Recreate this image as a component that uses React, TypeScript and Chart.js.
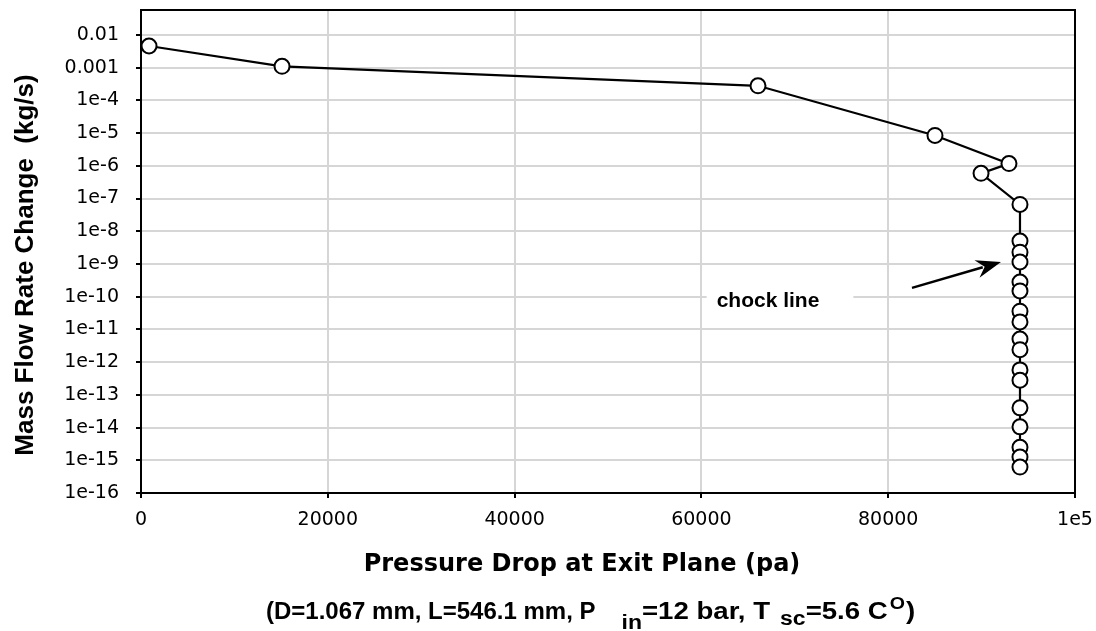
import React, { useEffect, useRef } from "react";
import { Chart, registerables } from "chart.js";

Chart.register(...registerables);

// ---- data ----
const pressureDrop = [
  860, 15100, 66060, 85010, 92930, 89940, 94110,
  94110, 94110, 94110, 94110, 94110, 94110, 94110, 94110,
  94110, 94110, 94110, 94110, 94110, 94110, 94110, 94110,
];
const massFlowChange = [
  4.6e-3, 1.1e-3, 2.8e-4, 8.5e-6, 1.17e-6, 5.9e-7, 6.6e-8,
  5.0e-9, 2.3e-9, 1.15e-9, 2.8e-10, 1.5e-10, 3.6e-11, 1.7e-11, 5.1e-12,
  2.4e-12, 5.8e-13, 2.8e-13, 4.0e-14, 1.05e-14, 2.5e-15, 1.25e-15, 6.2e-16,
];

const xTickValues = [0, 20000, 40000, 60000, 80000, 100000];
const xTickLabels = ["0", "20000", "40000", "60000", "80000", "1e5"];
const yTickValues = [1e-2, 1e-3, 1e-4, 1e-5, 1e-6, 1e-7, 1e-8, 1e-9, 1e-10, 1e-11, 1e-12, 1e-13, 1e-14, 1e-15, 1e-16];
const yTickLabels = ["0.01", "0.001", "1e-4", "1e-5", "1e-6", "1e-7", "1e-8", "1e-9", "1e-10", "1e-11", "1e-12", "1e-13", "1e-14", "1e-15", "1e-16"];
const xAxisMin = 0;
const xAxisMax = 100000;
const yAxisMin = 1e-16;
const yAxisMax = 0.058;

const xTitle = "Pressure Drop at Exit Plane (pa)";
const yTitle = "Mass Flow Rate Change  (kg/s)";
const noteParts = [
  { text: "(D=1.067 mm, L=546.1 mm, P", kind: "normal" },
  { text: "in", kind: "sub" },
  { text: "=12 bar, T", kind: "normal" },
  { text: "sc", kind: "sub" },
  { text: "=5.6 C", kind: "normal" },
  { text: "O", kind: "sup" },
  { text: ")", kind: "normal" },
];

const chockLabel = "chock line";
// annotation anchors in data units
const arrowTip = { x: 92077, y: 1.15e-9 };
const arrowTail = { x: 82548, y: 1.86e-10 };
const labelAnchor = { x: 67130, y: 7.4e-11 };

const FONT = "'Liberation Sans', Arial, sans-serif";

const decorPlugin = {
  id: "decor",
  beforeDatasetsDraw(chart: any) {
    const { ctx, chartArea } = chart;
    ctx.save();
    ctx.strokeStyle = "#000";
    ctx.lineWidth = 2;
    ctx.strokeRect(chartArea.left, chartArea.top, chartArea.right - chartArea.left, chartArea.bottom - chartArea.top);
    const xs = chart.scales.x;
    const ys = chart.scales.y;
    const lx = xs.getPixelForValue(labelAnchor.x);
    const ly = ys.getPixelForValue(labelAnchor.y);
    ctx.font = `bold 21px ${FONT}`;
    const w = ctx.measureText(chockLabel).width;
    ctx.fillStyle = "#fff";
    ctx.fillRect(lx - w / 2 - 10, ly - 16, w + 20 + 24, 32);
    ctx.fillStyle = "#000";
    ctx.textAlign = "center";
    ctx.textBaseline = "middle";
    ctx.fillText(chockLabel, lx, ly);
    ctx.restore();
  },
  afterDraw(chart: any) {
    const { ctx } = chart;
    const xs = chart.scales.x;
    const ys = chart.scales.y;
    ctx.save();
    ctx.fillStyle = "#000";
    ctx.strokeStyle = "#000";

    // arrow
    const tx = xs.getPixelForValue(arrowTip.x);
    const ty = ys.getPixelForValue(arrowTip.y);
    const sx = xs.getPixelForValue(arrowTail.x);
    const sy = ys.getPixelForValue(arrowTail.y);
    const ang = Math.atan2(ty - sy, tx - sx);
    const headLen = 25;
    const headHalf = 9;
    const bx = tx - headLen * Math.cos(ang);
    const by = ty - headLen * Math.sin(ang);
    ctx.lineWidth = 2.5;
    ctx.beginPath();
    ctx.moveTo(sx, sy);
    ctx.lineTo(bx + 6 * Math.cos(ang), by + 6 * Math.sin(ang));
    ctx.stroke();
    ctx.beginPath();
    ctx.moveTo(tx, ty);
    ctx.lineTo(bx + headHalf * Math.sin(ang), by - headHalf * Math.cos(ang));
    ctx.lineTo(bx + 8 * Math.cos(ang), by + 8 * Math.sin(ang));
    ctx.lineTo(bx - headHalf * Math.sin(ang), by + headHalf * Math.cos(ang));
    ctx.closePath();
    ctx.fill();

    // y title
    ctx.save();
    ctx.translate(33, 265);
    ctx.rotate(-Math.PI / 2);
    ctx.font = `bold 26px ${FONT}`;
    ctx.textAlign = "center";
    ctx.textBaseline = "alphabetic";
    ctx.fillText(yTitle, 0, 0);
    ctx.restore();

    // x title
    ctx.font = "bold 24px 'DejaVu Sans', sans-serif";
    ctx.textAlign = "center";
    ctx.textBaseline = "alphabetic";
    ctx.fillText(xTitle, 582, 571);

    // note line with sub/superscripts
    ctx.textAlign = "left";
    let x = 266;
    const base = 619;
    const drawStretched = (t: string, px: number, py: number, k: number) => {
      ctx.save();
      ctx.translate(px, py);
      ctx.scale(k, 1);
      ctx.fillText(t, 0, 0);
      ctx.restore();
      return ctx.measureText(t).width * k;
    };
    let first = true;
    for (const p of noteParts) {
      const k = first ? 1 : 1.15;
      if (p.kind === "normal") {
        ctx.font = `bold 24px ${FONT}`;
        x += drawStretched(p.text, x, base, k);
        first = false;
      } else if (p.kind === "sub") {
        x += p.text === "in" ? 26 : 10;
        ctx.font = `bold 20px ${FONT}`;
        x += drawStretched(p.text, x, base + (p.text === "in" ? 10 : 6), k);
      } else {
        x += 2;
        ctx.font = `bold 17px ${FONT}`;
        x += drawStretched(p.text, x, base - 10, k) + 1;
      }
    }
    ctx.restore();
  },
};

export default function App() {
  const canvasRef = useRef<HTMLCanvasElement | null>(null);

  useEffect(() => {
    const canvas = canvasRef.current;
    if (!canvas) return;
    const points = pressureDrop.map((x, i) => ({ x, y: massFlowChange[i] }));
    const tickFont = { family: "'DejaVu Sans', sans-serif", size: 19 };
    const chart = new Chart(canvas, {
      type: "scatter",
      data: {
        datasets: [
          {
            data: points,
            showLine: true,
            borderColor: "#000",
            borderWidth: 2.2,
            pointRadius: 7.5,
            pointHoverRadius: 7.5,
            pointBackgroundColor: "#fff",
            pointBorderColor: "#000",
            pointBorderWidth: 2,
            tension: 0,
          },
        ],
      },
      options: {
        animation: false,
        responsive: false,
        events: [],
        layout: { padding: { top: 10, right: 21, left: 0, bottom: 0 } },
        plugins: { legend: { display: false }, tooltip: { enabled: false } },
        scales: {
          x: {
            type: "linear",
            min: xAxisMin,
            max: xAxisMax,
            afterBuildTicks: (s: any) => {
              s.ticks = xTickValues.map((v) => ({ value: v }));
            },
            afterFit: (s: any) => {
              s.height = 138;
              s.paddingLeft = 0;
              s.paddingRight = 0;
            },
            ticks: {
              autoSkip: false,
              maxRotation: 0,
              color: "#000",
              font: tickFont,
              padding: 11,
              callback: (_v: any, i: number) => xTickLabels[i],
            },
            grid: { color: "#d6d6d6", lineWidth: 2, tickColor: "#000", tickLength: 5, tickWidth: 2 },
            border: { display: true, color: "#000", width: 2 },
          },
          y: {
            type: "logarithmic",
            min: yAxisMin,
            max: yAxisMax,
            afterBuildTicks: (s: any) => {
              s.ticks = yTickValues.map((v) => ({ value: v }));
            },
            afterFit: (s: any) => {
              s.width = 141;
              s.paddingTop = 0;
              s.paddingBottom = 0;
            },
            ticks: {
              autoSkip: false,
              color: "#000",
              font: tickFont,
              padding: 17,
              callback: (_v: any, i: number) => yTickLabels[i],
            },
            grid: { color: "#d6d6d6", lineWidth: 2, tickColor: "#000", tickLength: 5, tickWidth: 2 },
            border: { display: true, color: "#000", width: 2 },
          },
        },
      },
      plugins: [decorPlugin],
    } as any);
    return () => chart.destroy();
  }, []);

  return (
    <div style={{ position: "absolute", left: 0, top: 0, width: 1096, height: 631, background: "#fff" }}>
      <canvas ref={canvasRef} width={1096} height={631} style={{ display: "block" }} />
    </div>
  );
}
